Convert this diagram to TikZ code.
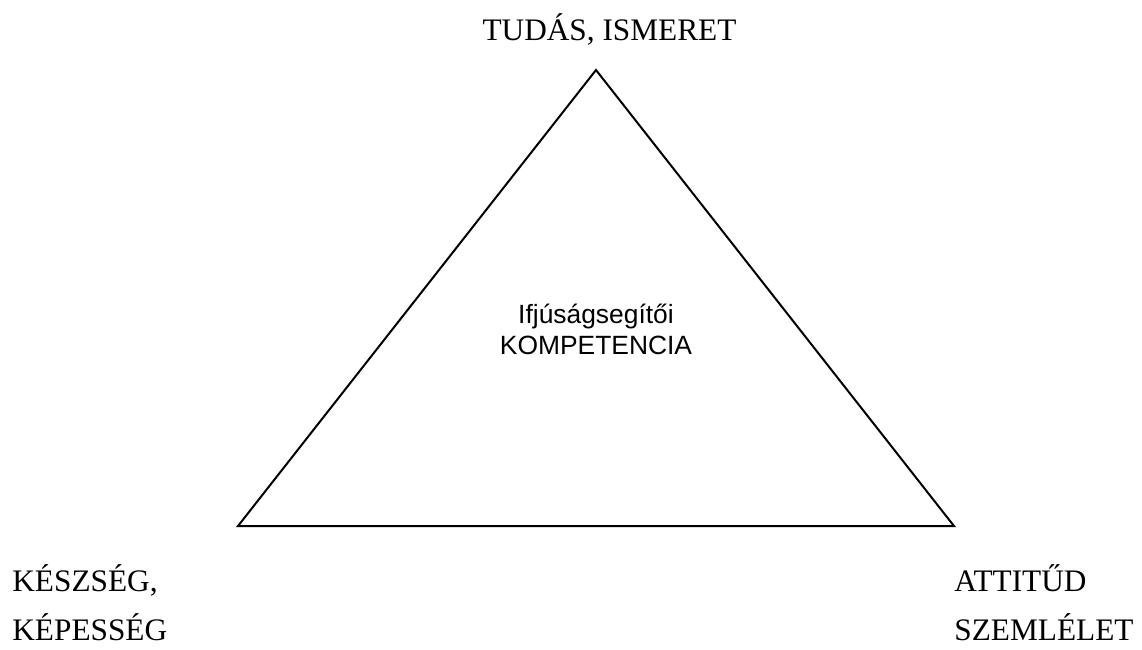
\documentclass[tikz,border=0pt]{standalone}
\usepackage{fontspec}
\setmainfont{Liberation Serif}
\setsansfont{Liberation Sans}
\usetikzlibrary{positioning}

\begin{document}
\begin{tikzpicture}[x=0.5pt, y=-0.5pt,
  corner/.style={font=\fontsize{15.65}{24.5}\selectfont, inner sep=0pt, align=left},
  core/.style={font=\sffamily\fontsize{13.2}{15.5}\selectfont, inner sep=0pt, align=center},
  tri/.style={line width=1pt, line join=miter}
]
  \useasboundingbox (0,0) rectangle (1142,649);

  % Triangle
  \coordinate (top) at (596,70);
  \coordinate (left) at (238,526);
  \coordinate (right) at (954,526);
  \draw[tri] (top) -- (left) -- (right) -- cycle;

  % Centre
  \node[core, anchor=base] (komp) at (596,354) {Ifjúságsegítői\\KOMPETENCIA};

  % Corner labels
  \node[corner, anchor=base] (tudas) at (609.5,40) {TUDÁS, ISMERET};
  \node[corner, anchor=base west] (keszseg) at (12,640) {KÉSZSÉG,\\KÉPESSÉG};
  \node[corner, anchor=base west] (attitud) at (954,640) {ATTITŰD\\SZEMLÉLET};
\end{tikzpicture}
\end{document}
